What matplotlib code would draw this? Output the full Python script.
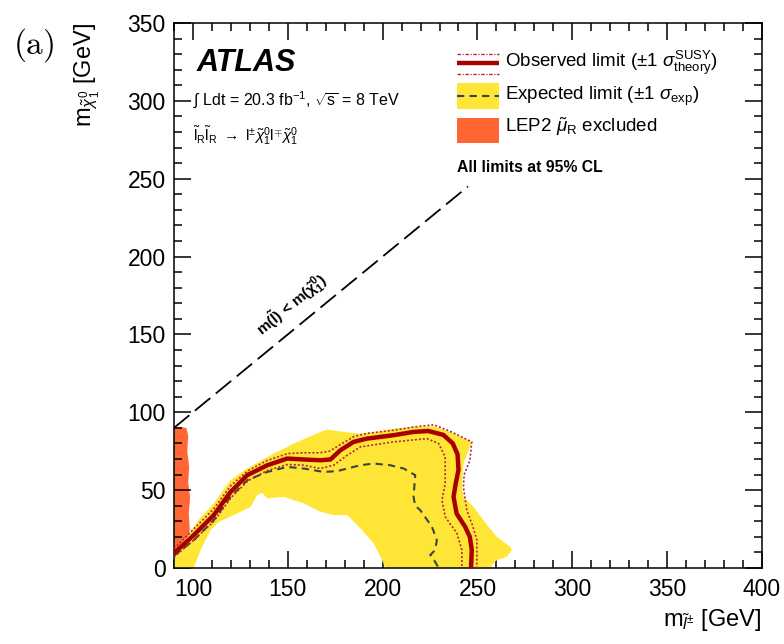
#!/usr/bin/env python3
import numpy as np
import matplotlib
matplotlib.use('Agg')
import matplotlib.pyplot as plt
from matplotlib.path import Path
from matplotlib.patches import PathPatch, Rectangle
from matplotlib.ticker import MultipleLocator

plt.rcParams['font.family'] = ['Liberation Sans', 'DejaVu Sans']
plt.rcParams['mathtext.fontset'] = 'custom'
plt.rcParams['mathtext.rm'] = 'Liberation Sans'
plt.rcParams['mathtext.it'] = 'Liberation Sans:italic'
plt.rcParams['mathtext.bf'] = 'Liberation Sans:bold'

# observed limit and +-1 sigma theory
obs_x = [90, 100.5, 111, 119.8, 128.6, 139.2, 149.7, 158.4, 167.2, 172.5, 177.7, 184.7, 191.8, 205.8,
         216.3, 224, 232, 237, 239.5, 240, 238.5, 237.4, 239, 243.5, 246, 247, 246.6]
obs_y = [9.5, 21.2, 34, 48.8, 59.6, 66, 70.3, 69.7, 69.2, 69.7, 75.6, 81, 83.1, 85.3,
         87.4, 88, 85.5, 80, 73, 63, 54, 45.7, 35, 26.5, 20, 11.5, 0]
up_x = [90, 100, 111, 120, 129, 139, 150, 158, 167, 172, 178, 185, 192, 206, 216, 227, 237, 247,
        246, 243, 242.6, 244.4, 247.5, 249.7, 249.7]
up_y = [12.5, 24.5, 38, 53, 62.5, 69, 73.5, 74, 74, 75, 79.5, 84.5, 86.5, 88.5, 90.5, 92, 87, 81,
        69, 60, 52, 37, 27, 18, 0]
down_x = [90, 100.5, 111, 120, 129, 139, 150, 158.4, 167.2, 174.2, 181.3, 188.3, 205.8, 223.4, 229.5,
          233, 233, 231.3, 233, 239.2, 241.8, 241.8]
down_y = [7, 18, 30, 45, 56, 62.5, 66.5, 66, 63.9, 66, 72.4, 77.8, 81, 83.1, 80,
          71.4, 54.3, 43.6, 32.9, 22.2, 11.5, 0]

# expected limit
exp_x = [90, 100.5, 111, 119.8, 128.6, 139.2, 149.7, 158.4, 168.9, 176, 181.3, 188.3, 195.3, 204,
         211.1, 217.2, 216.3, 217.2, 219.8, 226, 228.6, 227.7, 225.1, 227.7, 229.5]
exp_y = [8, 17.9, 30.8, 45.7, 56.4, 61.7, 64.9, 63.9, 61.7, 62.2, 63.9, 66, 67.1, 66,
         63.9, 59.6, 45.7, 40, 37.2, 26.5, 17.9, 11.5, 8.3, 4, 0]

# expected +-1 sigma band: outer edge and inner hole
band_out_x = [90, 90, 97, 103, 111, 119.8, 128.6, 140.9, 153.2, 167.2, 170.7, 179.5, 188.3, 197.1,
              205.8, 216.3, 226.8, 235.6, 247.1, 242.6, 241.8, 242.6, 247.9, 255.8, 260.2, 267.2,
              268.1, 265.5, 260.2, 257.6, 257]
band_out_y = [0, 11, 20, 31, 41.5, 56.4, 63.9, 72.4, 79.9, 87.4, 88.9, 87.4, 86.3, 87.4,
              89.5, 90.6, 91, 87.4, 81, 67.1, 52.1, 45.7, 39.3, 26.5, 20.1, 13.7,
              11.5, 7.2, 5.1, 1.9, 0]
hole_x = [100.5, 104, 109.3, 113.7, 121.6, 130.4, 133.9, 136.5, 139.2, 147.9, 158.4, 167.2, 174.2,
          181.3, 188.3, 195.3, 199.7, 201.4]
hole_y = [0, 11.5, 24.4, 29.7, 34, 39.3, 46.8, 48.3, 44.7, 45.7, 41.5, 36.1, 34,
          34, 25.4, 15.8, 5.1, 0]

# LEP2 excluded region
lep_x = [90, 90, 93, 96.5, 97.5, 97, 98, 97.5, 98.5, 97.8, 98.3, 97.5, 96.8, 96]
lep_y = [0, 90, 90.5, 90, 85, 75, 65, 55, 45, 35, 25, 15, 5, 0]

# kinematic limit m(slepton) = m(chi)
diag = [90, 245]

yellow = '#ffe636'
orange = '#ff6633'
red = '#a80000'
sig_col = '#b02838'

fig = plt.figure(figsize=(7.84, 6.44), dpi=100)
ax = fig.add_axes([0.2219, 0.118, 0.75, 0.8463])

ax.fill(lep_x, lep_y, color=orange, lw=0, zorder=1)

outer = np.column_stack([band_out_x, band_out_y])
inner = np.column_stack([hole_x, hole_y])[::-1]
verts = np.concatenate([outer, outer[:1], inner, inner[:1]])
codes = ([Path.MOVETO] + [Path.LINETO] * (len(outer) - 1) + [Path.CLOSEPOLY] +
         [Path.MOVETO] + [Path.LINETO] * (len(inner) - 1) + [Path.CLOSEPOLY])
ax.add_patch(PathPatch(Path(verts, codes), facecolor=yellow, lw=0, zorder=2))

ax.plot(exp_x, exp_y, color='#3c4640', lw=1.5, dashes=(3.5, 2.5), zorder=3)
dot_ls = (0, (1.2, 1.2))
ax.plot(up_x, up_y, color=sig_col, lw=1.2, ls=dot_ls, zorder=4)
ax.plot(down_x, down_y, color=sig_col, lw=1.2, ls=dot_ls, zorder=4)
ax.plot(obs_x, obs_y, color=red, lw=3.2, zorder=5, solid_capstyle='butt')

ax.plot(diag, diag, color='black', lw=1.3, dashes=(11, 4), zorder=3)
ax.text(152, 169, r'$\mathbf{m(\tilde{l})}$ < $\mathbf{m(\tilde{\chi}_1^0)}$', rotation=39.4,
        ha='center', va='center', fontsize=11, fontweight='bold', rotation_mode='anchor')

ax.set_xlim(90, 400)
ax.set_ylim(0, 350)
ax.xaxis.set_major_locator(MultipleLocator(50))
ax.xaxis.set_minor_locator(MultipleLocator(10))
ax.yaxis.set_major_locator(MultipleLocator(50))
ax.yaxis.set_minor_locator(MultipleLocator(10))
ax.tick_params(which='both', direction='in', top=True, right=True, labelsize=16.5)
ax.tick_params(which='major', length=12.5, width=1.1)
ax.tick_params(which='minor', length=6, width=1.1)
ax.tick_params(axis='x', pad=7)
ax.tick_params(axis='y', pad=6)
for s in ax.spines.values():
    s.set_linewidth(1.1)

ax.set_xlabel(r'm$_{\tilde{l}^{\pm}}$ [GeV]', fontsize=17, ha='right')
ax.xaxis.set_label_coords(1.0, -0.072)
ax.set_ylabel(r'm$_{\tilde{\chi}_1^0}$ [GeV]', fontsize=17, ha='right')
ax.yaxis.set_label_coords(-0.122, 1.0)

# labels
ax.text(0.039, 0.927, 'ATLAS', transform=ax.transAxes, fontsize=22, fontweight='bold',
        style='italic', va='center')
ax.text(0.032, 0.859, r'$\int$ Ldt = 20.3 fb$^{-1}$, $\sqrt{\mathrm{s}}$ = 8 TeV',
        transform=ax.transAxes, fontsize=11.5, va='center')
ax.text(0.032, 0.794, r'$\tilde{\mathrm{l}}_\mathrm{R}\tilde{\mathrm{l}}_\mathrm{R}$ $\rightarrow$ '
        r'$\mathrm{l}^{\pm}\tilde{\chi}_1^0\mathrm{l}^{\mp}\tilde{\chi}_1^0$',
        transform=ax.transAxes, fontsize=11, va='center')

# legend, drawn by hand
lx0, lx1, tx = 0.481, 0.552, 0.563
sig_ls = (0, (2.5, 1.2, 0.8, 1.2))
ax.plot([lx0, lx1], [0.944, 0.944], transform=ax.transAxes, color=sig_col, lw=1.0, ls=sig_ls)
ax.plot([lx0, lx1], [0.906, 0.906], transform=ax.transAxes, color=sig_col, lw=1.0, ls=sig_ls)
ax.plot([lx0, lx1], [0.926, 0.926], transform=ax.transAxes, color=red, lw=3.2, solid_capstyle='butt')
ax.text(tx, 0.926, r'Observed limit ($\pm$1 $\sigma^{\mathrm{SUSY}}_{\mathrm{theory}}$)',
        transform=ax.transAxes, fontsize=13.5, va='center')
ax.add_patch(Rectangle((lx0, 0.843), lx1 - lx0, 0.046, transform=ax.transAxes,
                       facecolor=yellow, lw=0))
ax.plot([lx0, lx1], [0.866, 0.866], transform=ax.transAxes, color='#3c4640', lw=1.5,
        dashes=(3.5, 2.5))
ax.text(tx, 0.866, r'Expected limit ($\pm$1 $\sigma_{\mathrm{exp}}$)',
        transform=ax.transAxes, fontsize=13.5, va='center')
ax.add_patch(Rectangle((lx0, 0.779), lx1 - lx0, 0.046, transform=ax.transAxes,
                       facecolor=orange, lw=0))
ax.text(tx, 0.809, r'LEP2 $\tilde{\mu}_\mathrm{R}$ excluded',
        transform=ax.transAxes, fontsize=13.5, va='center')
ax.text(lx0, 0.734, 'All limits at 95% CL', transform=ax.transAxes, fontsize=11.3,
        fontweight='bold', va='center')

fig.text(0.016, 0.930, r'$\mathrm{(a)}$', fontsize=24, va='center', math_fontfamily='cm')

fig.savefig('out.png', dpi=100)
